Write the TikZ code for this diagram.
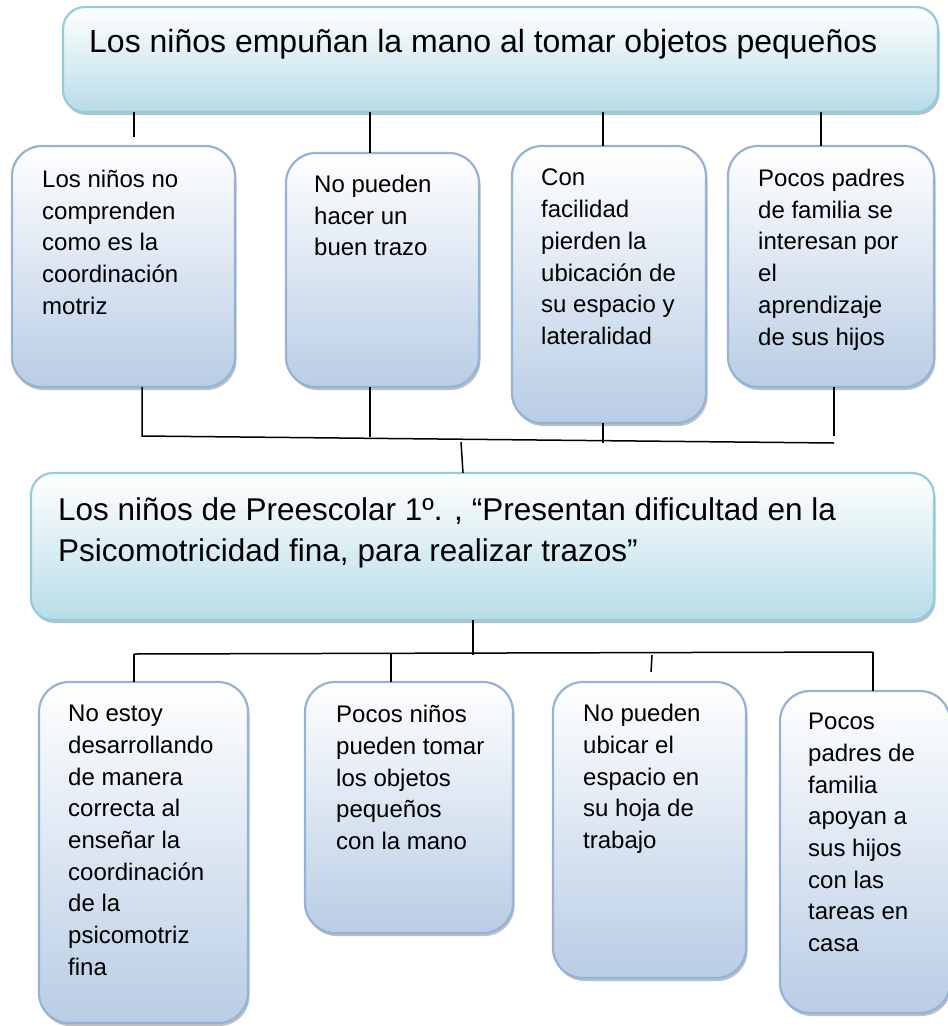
\documentclass[tikz,border=0pt]{standalone}
\usepackage{fontspec}
\setmainfont{Liberation Sans}
\usetikzlibrary{shadows}

\definecolor{cyanline}{HTML}{93CDDD}
\definecolor{cyanfill}{HTML}{B7DDE8}
\definecolor{blueline}{HTML}{95B3D7}
\definecolor{bluefill}{HTML}{B9CDE5}

\begin{document}
\begin{tikzpicture}[x=1pt, y=-1pt,
  mainbox/.style={draw=cyanline, line width=2.2pt, top color=white, bottom color=cyanfill,
    rounded corners=22pt, inner sep=0pt, outer sep=0pt,
    drop shadow={shadow xshift=1.5pt, shadow yshift=-3pt, fill=black!45, opacity=.55}},
  causebox/.style={draw=blueline, line width=2.2pt, top color=white, bottom color=bluefill,
    rounded corners=30pt, inner sep=0pt, outer sep=0pt,
    drop shadow={shadow xshift=1.5pt, shadow yshift=-3pt, fill=black!45, opacity=.55}},
  maintext/.style={anchor=north west, inner sep=0pt, align=left,
    font=\fontsize{32}{41}\selectfont, execute at begin node=\rule{0pt}{24pt}},
  boxtext/.style={anchor=north west, inner sep=0pt, align=left,
    font=\fontsize{24}{31.7}\selectfont, execute at begin node=\rule{0pt}{18pt}},
  link/.style={line width=1.5pt, black}
]
\path[use as bounding box, fill=white] (0,0) rectangle (948,1026);

% Problem at the top
\node[mainbox, minimum width=875pt, minimum height=105pt] (top) at (500.5,59.5) {};
\node[maintext] (toptxt) at (89,28) {Los niños empuñan la mano al tomar objetos pequeños};

% First row of boxes
\node[causebox, minimum width=223pt, minimum height=241pt] (c1) at (123.5,266.5) {};
\node[boxtext] (c1txt) at (42,170) {Los niños no\\comprenden\\como es la\\coordinación\\motriz};
\node[causebox, minimum width=193pt, minimum height=234pt] (c2) at (382.5,270) {};
\node[boxtext] (c2txt) at (314,175) {No pueden\\hacer un\\buen trazo};
\node[causebox, minimum width=194pt, minimum height=277pt] (c3) at (609,284.5) {};
\node[boxtext] (c3txt) at (541,169) {Con\\facilidad\\pierden la\\ubicación de\\su espacio y\\lateralidad};
\node[causebox, minimum width=206pt, minimum height=241pt] (c4) at (831,266.5) {};
\node[boxtext] (c4txt) at (758,169) {Pocos padres\\de familia se\\interesan por\\el\\aprendizaje\\de sus hijos};

% Lines from the top box
\draw[link] (top.south -| 134,0) -- ([yshift=9pt]c1.north -| 134,0);
\draw[link] (top.south -| 370,0) -- (c2.north -| 370,0);
\draw[link] (top.south -| 603,0) -- (c3.north -| 603,0);
\draw[link] (top.south -| 821,0) -- (c4.north -| 821,0);

% Central problem
\node[mainbox, minimum width=903pt, minimum height=147pt] (mid) at (482.5,546.5) {};
\node[maintext, font=\fontsize{31.5}{41}\selectfont] (midtxt) at (58,497)
  {Los niños de Preescolar 1º. , “Presentan dificultad en la\\Psicomotricidad fina, para realizar trazos”};

% Joining line under the first row
\coordinate (j1) at (142,436);
\coordinate (j2) at (370,437);
\coordinate (j3) at (603,443);
\coordinate (j4) at (834,443);
\coordinate (j5) at (461,442);
\draw[link] (c1.south -| j1) -- (j1) -- (j4);
\draw[link] (c2.south -| j2) -- (j2);
\draw[link] (c3.south -| j3) -- (j3);
\draw[link] (c4.south -| j4) -- ([yshift=7pt]j4);
\draw[link] (j5) -- (mid.north -| 463,0);

% Second row of boxes
\node[causebox, minimum width=209pt, minimum height=341pt] (e1) at (143.5,852.5) {};
\node[boxtext] (e1txt) at (68,705) {No estoy\\desarrollando\\de manera\\correcta al\\enseñar la\\coordinación\\de la\\psicomotriz\\fina};
\node[causebox, minimum width=208pt, minimum height=251pt] (e2) at (409,807.5) {};
\node[boxtext] (e2txt) at (336,705) {Pocos niños\\pueden tomar\\los objetos\\pequeños\\con la mano};
\node[causebox, minimum width=193pt, minimum height=296pt] (e3) at (649.5,830) {};
\node[boxtext] (e3txt) at (583,704) {No pueden\\ubicar el\\espacio en\\su hoja de\\trabajo};
\node[causebox, minimum width=170pt, minimum height=322pt] (e4) at (865,852) {};
\node[boxtext] (e4txt) at (808,713) {Pocos\\padres de\\familia\\apoyan a\\sus hijos\\con las\\tareas en\\casa};

% Lines from the central problem
\coordinate (k1) at (134,654);
\coordinate (k2) at (391,653);
\coordinate (k3) at (652,655);
\coordinate (k4) at (873,652);
\coordinate (k5) at (651,672);
\draw[link] (mid.south -| 473,0) -- (473,655);
\draw[link] (k1) -- (k4);
\draw[link] (k1) -- (e1.north -| k1);
\draw[link] (k2) -- (e2.north -| k2);
\draw[link] (k3) -- (k5);
\draw[link] (k4) -- (e4.north -| k4);

\end{tikzpicture}
\end{document}
